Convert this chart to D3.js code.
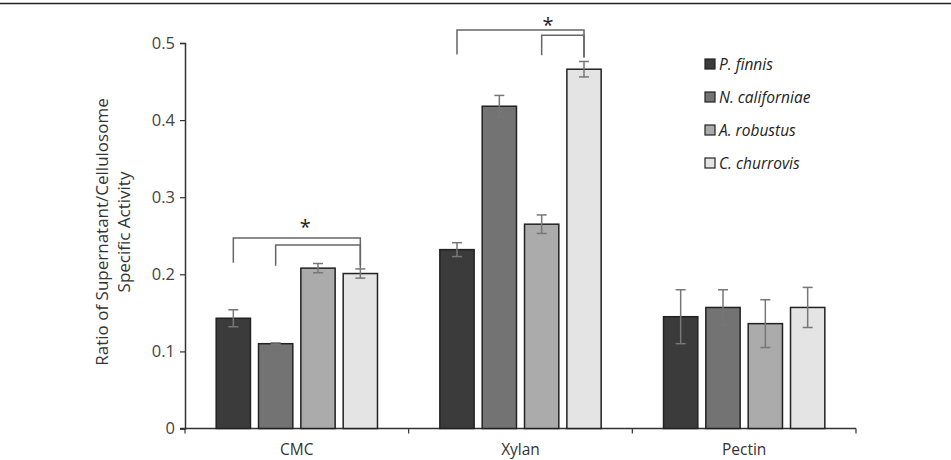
<!DOCTYPE html>
<html>
<head>
<meta charset="utf-8">
<script src="https://cdn.jsdelivr.net/npm/d3@7/dist/d3.min.js"></script>
<style>
  body{margin:0;background:#fff;}
  svg{display:block;}
</style>
</head>
<body>
<div id="chart"></div>
<script>
// substrates and strains
const categories=["CMC","Xylan","Pectin"];
const strains=["P. finnis","N. californiae","A. robustus","C. churrovis"];
const colors=["#3b3b3b","#737373","#ababab","#e4e4e4"];

// mean ratio per strain, in category order
const means=[
  [0.143,0.110,0.208,0.201],
  [0.232,0.418,0.265,0.466],
  [0.145,0.157,0.136,0.157]
];
// error (+/-)
const errs=[
  [0.011,0.001,0.006,0.006],
  [0.009,0.014,0.012,0.010],
  [0.035,0.023,0.031,0.026]
];
const yTicks=[0,0.1,0.2,0.3,0.4,0.5];

// significance brackets
const brackets=[
  {cat:"CMC",from:0,to:3,top:0.247,leg:0.215},
  {cat:"CMC",from:1,to:3,top:0.238,leg:0.211},
  {cat:"Xylan",from:0,to:3,top:0.517,leg:0.485},
  {cat:"Xylan",from:2,to:3,top:0.510,leg:0.484}
];
const stars=[{cat:"CMC",v:0.266,s:1.7},{cat:"Xylan",v:0.528,s:2.15}];

const W=951,H=460;
const M={left:185,right:95,top:43,bottom:31};
const font="'Open Sans',sans-serif";

const svg=d3.select("#chart").append("svg").attr("width",W).attr("height",H);

// top border rule
svg.append("line").attr("x1",0).attr("x2",W).attr("y1",3.5).attr("y2",3.5)
  .attr("stroke","#222").attr("stroke-width",1.5);

const x=d3.scaleBand().domain(categories).range([M.left,M.left+671]).paddingInner(0).paddingOuter(0);
const xs=d3.scaleBand().domain(d3.range(strains.length)).range([0,163]).paddingInner(0.19).paddingOuter(0.02);
const y=d3.scaleLinear().domain([0,0.5]).range([H-M.bottom-0.5,M.top]);

const grpOff=(x.bandwidth()-xs.range()[1])/2;

// ── AXES ────────────────────────────────────
const yAx=svg.append("g").attr("transform",`translate(${M.left},0)`)
  .call(d3.axisLeft(y).tickValues(yTicks).tickSize(5).tickFormat(d=>d===0?"0":d3.format(".1f")(d)));
yAx.select(".domain").attr("stroke","#333").attr("stroke-width",1.5);
yAx.selectAll(".tick line").attr("stroke","#333").attr("stroke-width",1.2);
yAx.selectAll(".tick text").attr("font-family",font).attr("font-size",16.5).attr("fill","#444").attr("x",-10);

const base=y(0);
const xAx=svg.append("g");
xAx.append("line").attr("x1",M.left-5).attr("x2",x.range()[1]).attr("y1",base).attr("y2",base)
  .attr("stroke","#333").attr("stroke-width",1.5);
// boundary ticks between categories
const bounds=categories.map(c=>x(c)).concat([x.range()[1]]);
bounds.forEach(b=>{
  xAx.append("line").attr("x1",b).attr("x2",b).attr("y1",base).attr("y2",base+5)
    .attr("stroke","#333").attr("stroke-width",1.2);
});
categories.forEach(c=>{
  xAx.append("text").attr("x",x(c)+x.bandwidth()/2).attr("y",base+26.5)
    .attr("text-anchor","middle").attr("font-family",font).attr("font-size",15.5).attr("fill","#333").text(c);
});

// y title
const yt=svg.append("text").attr("transform",`translate(109,232) rotate(-90)`)
  .attr("text-anchor","middle").attr("font-family",font).attr("font-size",17).attr("fill","#333");
yt.append("tspan").attr("x",0).attr("dy",-1).text("Ratio of Supernatant/Cellulosome");
yt.append("tspan").attr("x",0).attr("dy",22).text("Specific Activity");

// ── BARS ────────────────────────────────────
categories.forEach((c,ci)=>{
  const g=svg.append("g").attr("transform",`translate(${x(c)+grpOff},0)`);
  means[ci].forEach((m,si)=>{
    const bx=xs(si),bw=xs.bandwidth();
    g.append("rect").attr("x",bx).attr("y",y(m)).attr("width",bw).attr("height",base-y(m))
      .attr("fill",colors[si]).attr("stroke","#222").attr("stroke-width",1.5);
    const cx=bx+bw/2,e=errs[ci][si];
    const eg=g.append("g").attr("stroke","#777").attr("stroke-width",1.5);
    eg.append("line").attr("x1",cx).attr("x2",cx).attr("y1",y(m+e)).attr("y2",y(m-e));
    eg.append("line").attr("x1",cx-5).attr("x2",cx+5).attr("y1",y(m+e)).attr("y2",y(m+e));
    eg.append("line").attr("x1",cx-5).attr("x2",cx+5).attr("y1",y(m-e)).attr("y2",y(m-e));
  });
});

// ── SIGNIFICANCE ────────────────────────────
const barCx=(c,s)=>{
  const i=Math.floor(s),f=s-i;
  const a=xs(i),b=xs(Math.min(i+1,strains.length-1));
  return x(c)+grpOff+a+(b-a)*f+xs.bandwidth()/2;
};
brackets.forEach(b=>{
  const x1=barCx(b.cat,b.from),x2=barCx(b.cat,b.to);
  svg.append("path").attr("fill","none").attr("stroke","#666").attr("stroke-width",1.5)
    .attr("d",`M${x1},${y(b.leg)} V${y(b.top)} H${x2} V${y(b.leg-0.003)}`);
});
stars.forEach(st=>{
  svg.append("text").attr("x",barCx(st.cat,st.s)).attr("y",y(st.v)+11)
    .attr("text-anchor","middle").attr("font-family",font).attr("font-size",20).attr("fill","#222").text("*");
});

// ── LEGEND ──────────────────────────────────
strains.forEach((s,i)=>{
  const ly=64+i*33;
  svg.append("rect").attr("x",705).attr("y",ly-5).attr("width",10).attr("height",10)
    .attr("fill",colors[i]).attr("stroke","#222").attr("stroke-width",1.2);
  svg.append("text").attr("x",719).attr("y",ly+5.5).attr("font-family",font).attr("font-size",15.5)
    .attr("font-style","italic").attr("fill","#222").text(s);
});
</script>
</body>
</html>
